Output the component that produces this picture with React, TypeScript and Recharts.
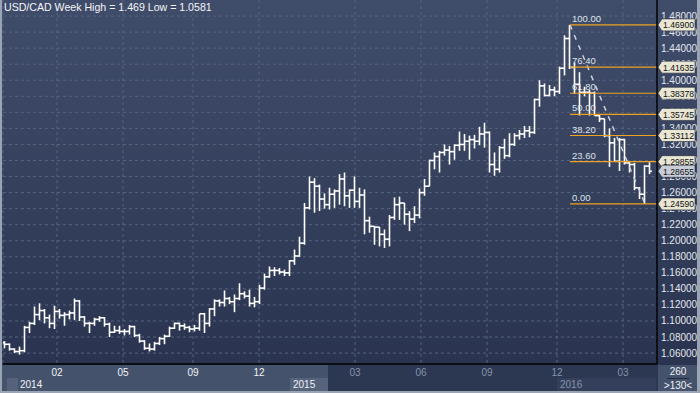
import {
    ComposedChart,
    Bar,
    Line,
    XAxis,
    YAxis,
    CartesianGrid,
    ReferenceLine,
} from "recharts";

// weekly USD/CAD bars, 130 weeks
const opens = [
    1.073, 1.071, 1.065, 1.062, 1.063, 1.092, 1.097, 1.108, 1.113, 1.104,
    1.097, 1.112, 1.107, 1.108, 1.110, 1.125, 1.105, 1.097, 1.097, 1.102,
    1.104, 1.096, 1.086, 1.088, 1.087, 1.087, 1.093, 1.082, 1.075, 1.066,
    1.065, 1.072, 1.078, 1.081, 1.091, 1.097, 1.094, 1.092, 1.090, 1.091,
    1.109, 1.097, 1.115, 1.125, 1.123, 1.128, 1.124, 1.128, 1.134, 1.131,
    1.122, 1.124, 1.141, 1.155, 1.163, 1.163, 1.161, 1.160, 1.175, 1.181,
    1.197, 1.241, 1.273, 1.268, 1.252, 1.245, 1.258, 1.262, 1.277, 1.256,
    1.263, 1.249, 1.257, 1.225, 1.218, 1.217, 1.208, 1.202, 1.229, 1.245,
    1.247, 1.233, 1.227, 1.232, 1.260, 1.268, 1.300, 1.305, 1.310, 1.313,
    1.311, 1.319, 1.320, 1.324, 1.326, 1.324, 1.333, 1.335, 1.295, 1.289,
    1.316, 1.306, 1.320, 1.331, 1.333, 1.337, 1.335, 1.376, 1.393, 1.381,
    1.388, 1.386, 1.415, 1.452, 1.416, 1.395, 1.385, 1.385, 1.384, 1.356,
    1.352, 1.331, 1.322, 1.299, 1.326, 1.297, 1.295, 1.266, 1.258, 1.293,
];
const highs = [
    1.075, 1.072, 1.066, 1.068, 1.094, 1.099, 1.118, 1.122, 1.115, 1.108,
    1.119, 1.115, 1.111, 1.113, 1.128, 1.126, 1.106, 1.099, 1.104, 1.106,
    1.105, 1.098, 1.094, 1.094, 1.090, 1.095, 1.094, 1.084, 1.076, 1.072,
    1.074, 1.080, 1.083, 1.093, 1.098, 1.098, 1.097, 1.094, 1.095, 1.109,
    1.110, 1.116, 1.127, 1.127, 1.138, 1.130, 1.133, 1.147, 1.137, 1.139,
    1.130, 1.145, 1.159, 1.168, 1.167, 1.166, 1.164, 1.176, 1.189, 1.205,
    1.247, 1.280, 1.278, 1.270, 1.259, 1.266, 1.264, 1.283, 1.285, 1.264,
    1.280, 1.266, 1.264, 1.230, 1.218, 1.217, 1.214, 1.232, 1.254, 1.255,
    1.247, 1.237, 1.243, 1.265, 1.277, 1.301, 1.310, 1.312, 1.320, 1.318,
    1.320, 1.336, 1.333, 1.331, 1.332, 1.342, 1.347, 1.336, 1.310, 1.318,
    1.327, 1.334, 1.334, 1.338, 1.343, 1.343, 1.377, 1.400, 1.396, 1.394,
    1.392, 1.417, 1.456, 1.469, 1.422, 1.410, 1.392, 1.388, 1.386, 1.358,
    1.352, 1.340, 1.328, 1.328, 1.327, 1.299, 1.297, 1.267, 1.294, 1.298,
];
const lows = [
    1.066, 1.063, 1.060, 1.0581, 1.061, 1.085, 1.095, 1.101, 1.097, 1.091,
    1.090, 1.103, 1.094, 1.102, 1.101, 1.100, 1.093, 1.085, 1.094, 1.099,
    1.093, 1.080, 1.085, 1.084, 1.082, 1.083, 1.080, 1.073, 1.064, 1.062,
    1.063, 1.070, 1.071, 1.080, 1.090, 1.088, 1.089, 1.086, 1.087, 1.088,
    1.085, 1.093, 1.106, 1.118, 1.118, 1.121, 1.111, 1.126, 1.128, 1.118,
    1.117, 1.121, 1.139, 1.154, 1.156, 1.158, 1.156, 1.156, 1.170, 1.180,
    1.195, 1.239, 1.235, 1.237, 1.240, 1.239, 1.241, 1.245, 1.243, 1.241,
    1.241, 1.241, 1.208, 1.210, 1.195, 1.193, 1.191, 1.193, 1.226, 1.226,
    1.220, 1.212, 1.222, 1.228, 1.256, 1.268, 1.289, 1.285, 1.306, 1.295,
    1.301, 1.312, 1.312, 1.301, 1.315, 1.319, 1.316, 1.285, 1.281, 1.285,
    1.302, 1.304, 1.318, 1.326, 1.328, 1.329, 1.333, 1.367, 1.380, 1.380,
    1.380, 1.383, 1.406, 1.414, 1.383, 1.356, 1.380, 1.356, 1.356, 1.348,
    1.329, 1.292, 1.299, 1.287, 1.295, 1.285, 1.263, 1.252, 1.2459, 1.283,
];
const closes = [
    1.071, 1.065, 1.062, 1.063, 1.092, 1.097, 1.108, 1.113, 1.104, 1.097,
    1.112, 1.107, 1.108, 1.110, 1.125, 1.105, 1.097, 1.097, 1.102, 1.104,
    1.096, 1.086, 1.088, 1.087, 1.087, 1.093, 1.082, 1.075, 1.066, 1.065,
    1.072, 1.078, 1.081, 1.091, 1.097, 1.094, 1.092, 1.090, 1.091, 1.109,
    1.097, 1.115, 1.125, 1.123, 1.128, 1.124, 1.128, 1.134, 1.131, 1.122,
    1.124, 1.141, 1.155, 1.163, 1.163, 1.161, 1.160, 1.175, 1.181, 1.197,
    1.241, 1.273, 1.268, 1.252, 1.245, 1.258, 1.262, 1.277, 1.256, 1.263,
    1.249, 1.257, 1.225, 1.218, 1.217, 1.208, 1.202, 1.229, 1.245, 1.247,
    1.233, 1.227, 1.232, 1.260, 1.268, 1.300, 1.305, 1.310, 1.313, 1.311,
    1.319, 1.320, 1.324, 1.326, 1.324, 1.333, 1.335, 1.295, 1.289, 1.316,
    1.306, 1.320, 1.331, 1.333, 1.337, 1.335, 1.376, 1.393, 1.381, 1.388,
    1.386, 1.415, 1.452, 1.416, 1.395, 1.385, 1.385, 1.384, 1.356, 1.352,
    1.331, 1.322, 1.299, 1.326, 1.297, 1.295, 1.266, 1.258, 1.293, 1.28655,
];

// fibonacci retracement from the Jan 2016 high to the low
const fibLabels = ["100.00", "76.40", "61.80", "50.00", "38.20", "23.60", "0.00"];
const fibPrices = [1.469, 1.41635, 1.38378, 1.35745, 1.33112, 1.29855, 1.2459];
const fibStartWeek = 113;
const fibEndWeek = 128;
const lastPrice = 1.28655;

const priceTicks = [
    1.06, 1.08, 1.1, 1.12, 1.14, 1.16, 1.18, 1.2, 1.22, 1.24, 1.26,
    1.28, 1.3, 1.32, 1.34, 1.36, 1.38, 1.4, 1.42, 1.44, 1.46, 1.48,
];
const monthTicks = [10.4, 23.6, 37.6, 50.8, 70, 83.2, 96.4, 110.4, 123.6];
const monthLabels = ["02", "05", "09", "12", "03", "06", "09", "12", "03"];
const yearLabels = ["2014", "2015", "2016"];

const FONT = "'Liberation Sans', Arial, sans-serif";
const X_MIN = -0.4;
const X_MAX = 130.4;

// badge ticks go last so they paint over the plain price labels
const axisTicks = [...priceTicks, ...fibPrices, lastPrice];

const data = closes.map((close, i) => ({
    week: i,
    range: [lows[i], highs[i]],
    open: opens[i],
    high: highs[i],
    low: lows[i],
    close,
    trend:
        i === fibStartWeek ? highs[i] : i === fibEndWeek ? lows[i] : null,
}));

function OhlcBar(props: any) {
    const { x, y, width, height, payload } = props;
    const top = Math.min(y, y + height);
    const h = Math.abs(height);
    const cx = x + width / 2;
    const span = payload.high - payload.low || 1;
    const yOpen = top + ((payload.high - payload.open) / span) * h;
    const yClose = top + ((payload.high - payload.close) / span) * h;
    return (
        <g stroke="#ffffff" strokeWidth={1.6}>
            <line x1={cx} x2={cx} y1={top} y2={top + h} />
            <line x1={cx - 2.5} x2={cx} y1={yOpen} y2={yOpen} />
            <line x1={cx} x2={cx + 2.5} y1={yClose} y2={yClose} />
        </g>
    );
}

function FibLabel(props: any) {
    const { viewBox, pct } = props;
    return (
        <text
            x={viewBox.x + 2}
            y={viewBox.y - 3}
            fontSize={9.5}
            fontFamily={FONT}
            fill="#dfe3ea"
        >
            {pct}
        </text>
    );
}

function PriceTick(props: any) {
    const { x, y, payload } = props;
    const v = Number(payload.value);
    const isFib = fibPrices.includes(v);
    const isLast = v === lastPrice;
    if (isFib || isLast) {
        const bx = x - 3;
        return (
            <g>
                <polygon
                    points={`${bx},${y} ${bx + 4},${y - 6} ${bx + 37},${y - 6} ${bx + 37},${y + 6} ${bx + 4},${y + 6}`}
                    fill={isLast ? "#c9cdd8" : "#e9e6d3"}
                    stroke="#1e2536"
                    strokeWidth={0.6}
                />
                <text
                    x={bx + 5}
                    y={y + 3.5}
                    fontSize={9.5}
                    fontFamily={FONT}
                    fill="#111"
                    textLength={31}
                    lengthAdjust="spacingAndGlyphs"
                >
                    {v.toFixed(5)}
                </text>
            </g>
        );
    }
    return (
        <text
            x={x}
            y={y + 3.5}
            fontSize={10}
            fontFamily={FONT}
            fill="#e4e7ee"
        >
            {v.toFixed(5)}
        </text>
    );
}

function MonthTick(props: any) {
    const { x, y, payload } = props;
    const idx = monthTicks.indexOf(payload.value);
    return (
        <text
            x={x}
            y={y + 12}
            textAnchor="middle"
            fontSize={10}
            fontFamily={FONT}
            fill={idx < 4 ? "#f0f2f6" : "#8593aa"}
        >
            {monthLabels[idx]}
        </text>
    );
}

export default function App() {
    return (
        <div
            style={{
                position: "fixed",
                left: 0,
                top: 0,
                width: 700,
                height: 393,
                overflow: "hidden",
                background:
                    "linear-gradient(180deg, #404d6a 0px, #2a3450 364px, #2a3450 393px)",
                fontFamily: FONT,
            }}
        >
            {/* time axis strip */}
            <div style={{ position: "absolute", left: 0, top: 365, width: 658, height: 28, background: "#2c3751" }} />
            <div style={{ position: "absolute", left: 0, top: 365, width: 328, height: 28, background: "#45526c" }} />
            <div style={{ position: "absolute", left: 7, top: 378, width: 11, height: 15, background: "#56627b" }} />
            <div style={{ position: "absolute", left: 290, top: 378, width: 38, height: 13, background: "#56637c" }} />
            <div style={{ position: "absolute", left: 557, top: 378, width: 99, height: 13, background: "#34405b" }} />
            <div style={{ position: "absolute", left: 20, top: 379, fontSize: 10, color: "#f0f2f6" }}>{yearLabels[0]}</div>
            <div style={{ position: "absolute", left: 293, top: 379, fontSize: 10, color: "#f0f2f6" }}>{yearLabels[1]}</div>
            <div style={{ position: "absolute", left: 560, top: 379, fontSize: 10, color: "#8593aa" }}>{yearLabels[2]}</div>
            {/* corner box */}
            <div style={{ position: "absolute", left: 658, top: 365, width: 42, height: 28, background: "#45526c" }} />
            <div style={{ position: "absolute", left: 657, top: 366, width: 42, textAlign: "center", fontSize: 10, color: "#f0f2f6" }}>260</div>
            <div style={{ position: "absolute", left: 667, top: 378, width: 22, height: 1, background: "#222b3e" }} />
            <div style={{ position: "absolute", left: 657, top: 380, width: 42, textAlign: "center", fontSize: 10, color: "#f0f2f6" }}>&gt;130&lt;</div>

            <div style={{ position: "absolute", left: 0, top: 0 }}>
                <ComposedChart
                    width={700}
                    height={393}
                    data={data}
                    margin={{ top: 0, right: 0, bottom: 0, left: 3 }}
                >
                    <CartesianGrid
                        stroke="#56637e"
                        strokeDasharray="3 3"
                        horizontalValues={priceTicks}
                    />
                    <XAxis
                        dataKey="week"
                        type="number"
                        domain={[X_MIN, X_MAX]}
                        ticks={monthTicks}
                        interval={0}
                        tick={<MonthTick />}
                        tickSize={0}
                        tickMargin={0}
                        height={29}
                        axisLine={{ stroke: "#000", strokeWidth: 1.5 }}
                        allowDataOverflow
                    />
                    <YAxis
                        orientation="right"
                        type="number"
                        domain={[1.0464, 1.5]}
                        ticks={axisTicks}
                        interval={0}
                        tick={<PriceTick />}
                        tickSize={0}
                        tickMargin={4}
                        width={43}
                        axisLine={{ stroke: "#000", strokeWidth: 1.5 }}
                        allowDataOverflow
                    />
                    <Bar
                        dataKey="range"
                        barSize={4}
                        shape={<OhlcBar />}
                        isAnimationActive={false}
                    />
                    <Line
                        dataKey="trend"
                        stroke="#cdd2db"
                        strokeWidth={1.5}
                        strokeDasharray="5 6"
                        dot={false}
                        connectNulls
                        isAnimationActive={false}
                    />
                    {fibPrices.map((p, k) => (
                        <ReferenceLine
                            key={k}
                            segment={[
                                { x: fibStartWeek, y: p },
                                { x: X_MAX, y: p },
                            ]}
                            stroke="#eea21f"
                            strokeWidth={1.2}
                            label={<FibLabel pct={fibLabels[k]} />}
                        />
                    ))}
                </ComposedChart>
            </div>

            <div
                style={{
                    position: "absolute",
                    left: 4,
                    top: 1,
                    fontSize: 10.6,
                    color: "#f4f5f8",
                    whiteSpace: "nowrap",
                }}
            >
                USD/CAD Week High = 1.469 Low = 1.0581
            </div>
            {/* frame */}
            <div style={{ position: "absolute", left: 0, top: 0, width: 2, height: 393, background: "#9ba4b5" }} />
            <div style={{ position: "absolute", left: 697, top: 0, width: 3, height: 393, background: "#9ba4b5" }} />
            <div style={{ position: "absolute", left: 0, top: 391, width: 700, height: 2, background: "#9ba4b5" }} />
        </div>
    );
}
